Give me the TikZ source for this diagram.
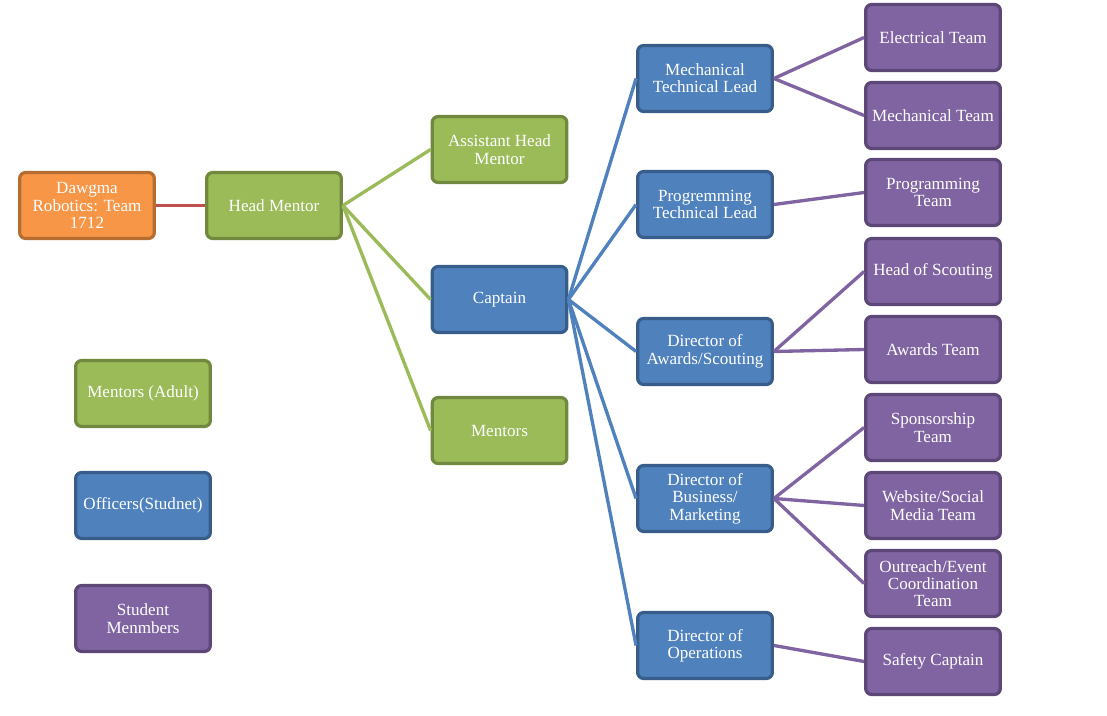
\documentclass[tikz,border=0pt]{standalone}
\usepackage{fontspec}
\setmainfont{Liberation Serif}
\definecolor{orfill}{HTML}{F79646}\definecolor{ordraw}{HTML}{B66D31}
\definecolor{grfill}{HTML}{9BBB59}\definecolor{grdraw}{HTML}{71893F}
\definecolor{blfill}{HTML}{4F81BD}\definecolor{bldraw}{HTML}{385D8A}
\definecolor{pufill}{HTML}{8064A2}\definecolor{pudraw}{HTML}{5C4776}
\definecolor{redline}{HTML}{C0504D}
\begin{document}
\begin{tikzpicture}[x=0.75pt,y=-0.75pt,
  box/.style={rounded corners=4.5pt,line width=2.4pt,minimum width=101pt,minimum height=49.5pt,
    align=center,text=white,font=\fontsize{12.8}{13}\selectfont,inner sep=1pt},
  orbox/.style={box,fill=orfill,draw=ordraw},
  grbox/.style={box,fill=grfill,draw=grdraw},
  blbox/.style={box,fill=blfill,draw=bldraw},
  pubox/.style={box,fill=pufill,draw=pudraw},
  grline/.style={draw=grfill,line width=2.5pt},
  blline/.style={draw=blfill,line width=2.5pt},
  puline/.style={draw=pufill,line width=2.5pt},
  rdline/.style={draw=redline,line width=2.5pt}]
\useasboundingbox (0,0) rectangle (1107,716);
% nodes
\node[orbox] (dawgma) at (87,205.5) {Dawgma\\Robotics: Team\\1712};
\node[grbox] (head) at (274,205.5) {Head Mentor};
\node[grbox] (asst) at (499.5,149.5) {Assistant Head\\Mentor};
\node[blbox] (capt) at (499.5,299.5) {Captain};
\node[grbox] (ment) at (499.5,430.5) {Mentors};
\node[grbox] (legA) at (143,393.5) {Mentors (Adult)};
\node[blbox] (legB) at (143,505.5) {Officers(Studnet)};
\node[pubox] (legC) at (143,618.5) {Student\\Menmbers};
\node[blbox] (mtl) at (705,78.5) {Mechanical\\Technical Lead};
\node[blbox] (ptl) at (705,204.5) {Progremming\\Technical Lead};
\node[blbox] (das) at (705,351.5) {Director of\\Awards/Scouting};
\node[blbox] (dbm) at (705,498.5) {Director of\\Business/\\Marketing};
\node[blbox] (dop) at (705,645.5) {Director of\\Operations};
\node[pubox] (elec) at (933,37.5) {Electrical Team};
\node[pubox] (mech) at (933,115.5) {Mechanical Team};
\node[pubox] (prog) at (933,192.5) {Programming\\Team};
\node[pubox] (scout) at (933,271.5) {Head of Scouting};
\node[pubox] (award) at (933,349.5) {Awards Team};
\node[pubox] (spons) at (933,427.5) {Sponsorship\\Team};
\node[pubox] (web) at (933,505.5) {Website/Social\\Media Team};
\node[pubox] (out) at (933,583.5) {Outreach/Event\\Coordination\\Team};
\node[pubox] (safe) at (933,661.5) {Safety Captain};
% connectors
\draw[rdline] (dawgma.east) -- (head.west);
\foreach \t in {asst,capt,ment} \draw[grline] (head.east) -- (\t.west);
\foreach \t in {mtl,ptl,das,dbm,dop} \draw[blline] (capt.east) -- (\t.west);
\foreach \s/\t in {mtl/elec,mtl/mech,ptl/prog,das/scout,das/award,dbm/spons,dbm/web,dbm/out,dop/safe}
  \draw[puline] (\s.east) -- (\t.west);
\end{tikzpicture}
\end{document}
